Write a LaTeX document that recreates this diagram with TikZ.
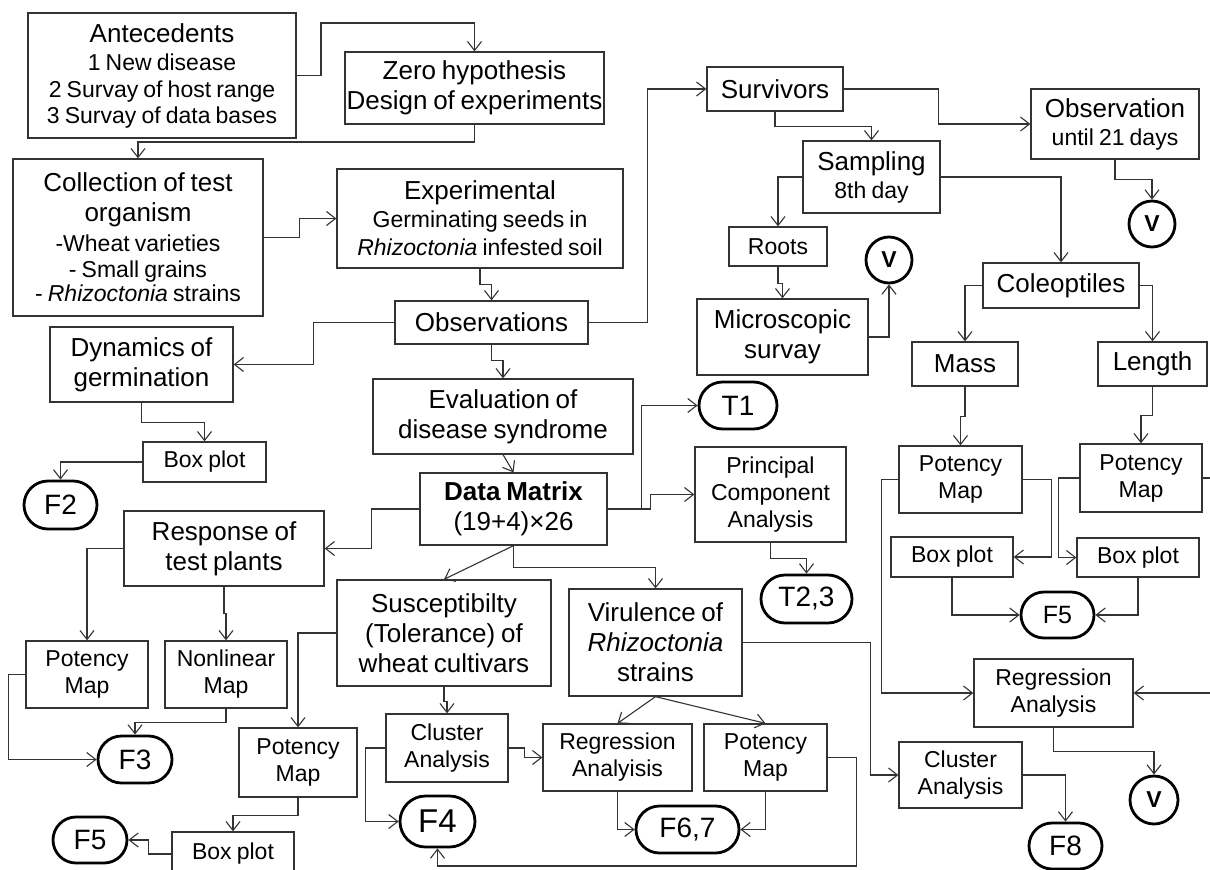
\documentclass[tikz,border=0pt]{standalone}
\usepackage{fontspec}
\setmainfont{Liberation Sans}[WordSpace=0.8]
\usetikzlibrary{arrows.meta,shapes.misc}

\newcommand{\lgtxt}{\fontsize{26}{30}\selectfont}
\newcommand{\smtxt}{\fontsize{23}{27}\selectfont}

\begin{document}
\begin{tikzpicture}[x=1pt,y=-1pt,
    box/.style={draw=black!80,line width=1.3pt,rectangle,align=center,inner sep=1pt,font=\lgtxt},
    sbox/.style={box,font=\smtxt},
    term/.style={draw,rounded rectangle,line width=2.8pt,inner sep=1pt,font=\fontsize{28}{32}\selectfont},
    vnode/.style={draw,circle,line width=2.8pt,minimum size=46pt,inner sep=0pt,font=\fontsize{23}{28}\selectfont\bfseries},
    wh/.style 2 args={minimum width=#1pt,minimum height=#2pt},
    arr/.style={-{Straight Barb[length=9pt,width=14pt]},draw=black!80,line width=1.1pt}]

  \useasboundingbox (0,0) rectangle (1210,870);

  \node[box,wh={268}{125}] (ante) at (162,75.5) {Antecedents\\[-2pt] \smtxt 1 New disease\\[-3pt] \smtxt 2 Survay of host range\\[-4pt] \smtxt 3 Survay of data bases};
  \node[box,wh={259}{72}] (zero) at (474.5,88) {Zero hypothesis\\ Design of experiments};
  \node[box,wh={250}{157}] (coll) at (138,237.5) {Collection of test\\ organism\\ \smtxt -Wheat varieties\\[-4pt] \smtxt - Small grains\\[-6pt] \smtxt - \textit{Rhizoctonia} strains};
  \node[box,wh={286}{99}] (expt) at (480,218.5) {Experimental\\[-2pt] \smtxt Germinating seeds in\\[-2pt] \smtxt \textit{Rhizoctonia} infested soil};
  \node[box,wh={193}{43}] (obs) at (491.5,322.5) {Observations};
  \node[box,wh={136}{44}] (surv) at (775,89) {Survivors};
  \node[box,wh={168}{70}] (obsv) at (1115,124) {Observation\\[-2pt] \smtxt until 21 days};
  \node[vnode] (vtop) at (1152,224) {V};
  \node[box,wh={137}{72}] (samp) at (871.5,177) {Sampling\\[-2pt] \smtxt 8th day};
  \node[sbox,wh={98}{39}] (roots) at (778,246.5) {Roots};
  \node[box,wh={171}{76}] (micro) at (782.5,337) {Microscopic\\ survay};
  \node[vnode] (vmid) at (889,260) {V};
  \node[box,wh={156}{45}] (cole) at (1061,285.5) {Coleoptiles};
  \node[box,wh={106}{44}] (mass) at (965,364) {Mass};
  \node[box,wh={109}{44}] (leng) at (1152.5,364) {Length};
  \node[sbox,wh={123}{67}] (potm) at (960.5,479.5) {Potency\\ Map};
  \node[sbox,wh={122}{68}] (potl) at (1141,478) {Potency\\ Map};
  \node[sbox,wh={122}{40}] (boxm) at (952,557) {Box plot};
  \node[sbox,wh={122}{39}] (boxl) at (1138,557.5) {Box plot};
  \node[term,wh={75}{46},font=\fontsize{25}{30}\selectfont] (ffive) at (1057.5,615) {F5};
  \node[sbox,wh={159}{68}] (regr) at (1053.5,693) {Regression\\ Analysis};
  \node[vnode,minimum size=48pt] (vbot) at (1154,800) {V};

  \node[box,wh={183}{75}] (dyn) at (141.5,364.5) {Dynamics of\\ germination};
  \node[sbox,wh={123}{40}] (boxg) at (204.5,462) {Box plot};
  \node[term,wh={75}{48}] (ftwo) at (60.5,505) {F2};
  \node[box,wh={260}{75}] (eval) at (503,416.5) {Evaluation of\\ disease syndrome};
  \node[box,wh={187}{72}] (dm) at (513.5,509) {\textbf{Data Matrix}\\ (19+4)×26};
  \node[term,wh={80}{47}] (tone) at (738,405.5) {T1};
  \node[sbox,wh={151}{95}] (pca) at (770.5,494.5) {Principal\\ Component\\ Analysis};
  \node[term,wh={93}{48}] (ttwo) at (806.5,599) {T2,3};
  \node[box,wh={200}{75}] (resp) at (224,548.5) {Response of\\ test plants};
  \node[sbox,wh={122}{67}] (pota) at (87,674.5) {Potency\\ Map};
  \node[sbox,wh={122}{67}] (nonl) at (226,674.5) {Nonlinear\\ Map};
  \node[term,wh={76}{47}] (fthree) at (135,759.5) {F3};
  \node[box,wh={214}{106}] (susc) at (444,633) {Susceptibilty\\ (Tolerance) of\\ wheat cultivars};
  \node[sbox,wh={118}{69}] (potb) at (298,762.5) {Potency\\ Map};
  \node[sbox,wh={122}{44}] (boxb) at (233,854) {Box plot};
  \node[term,wh={76}{46}] (ffivel) at (90,840) {F5};
  \node[sbox,wh={122}{68}] (clusm) at (447,748) {Cluster\\ Analysis};
  \node[term,wh={77}{51},font=\fontsize{33}{36}\selectfont] (ffour) at (437.5,821.5) {F4};
  \node[box,wh={173}{107}] (viru) at (655.5,642.5) {Virulence of\\ \textit{Rhizoctonia}\\ strains};
  \node[sbox,wh={149}{67}] (regm) at (617.5,757.5) {Regression\\ Analyisis};
  \node[sbox,wh={123}{67}] (potc) at (765.5,757.5) {Potency\\ Map};
  \node[term,wh={105}{47}] (fsix) at (687.5,829.5) {F6,7};
  \node[sbox,wh={123}{66}] (clusr) at (960.5,775) {Cluster\\ Analysis};
  \node[term,wh={75}{46}] (feight) at (1065.5,846) {F8};

  \draw[arr] (ante.east) -| (321,23) -| (zero.north);
  \draw[arr] (zero.south) |- (138,142) -- (coll.north);
  \draw[arr] (coll.east) -- ++(36,0) |- (expt.west);
  \draw[arr] (expt.south) -- ++(0,16) -| (obs.north);
  \draw[arr] (obs.east) -- ++(59,0) |- (surv.west);
  \draw[arr] (surv.east) -- ++(95,0) |- (obsv.west);
  \draw[arr] (obsv.south) -- ++(0,20) -| (vtop.north);
  \draw[arr] (surv.south) -- ++(0,15) -| (samp.north);
  \draw[arr] (samp.west) -| (roots.north);
  \draw[arr] (roots.south) -- ++(0,17) -| (micro.north);
  \draw[arr] (micro.east) -| (vmid.south);
  \draw[arr] (samp.east) -| (cole.north);
  \draw[arr] (cole.west) -| (mass.north);
  \draw[arr] (cole.east) -| (leng.north);
  \draw[arr] (mass.south) -- ++(0,30) -| (potm.north);
  \draw[arr] (leng.south) -- ++(0,29) -| (potl.north);
  \draw[arr] (potm.east) -- ++(29,0) |- (boxm.east);
  \draw[arr] (potl.west) -- ++(-21,0) |- (boxl.west);
  \draw[arr] (boxm.south) |- (ffive.west);
  \draw[arr] (boxl.south) |- (ffive.east);
  \draw[arr] (potm.west) -- ++(-17,0) |- (regr.west);
  \draw[arr] (potl.east) -- ++(23,0) |- (regr.east);
  \draw[arr] (regr.south) -- ++(0,24) -| (vbot.north);

  \draw[arr] (obs.west) -- ++(-81,0) |- (dyn.east);
  \draw[arr] (dyn.south) -- ++(0,20) -| (boxg.north);
  \draw[arr] (boxg.west) -| (ftwo.north);
  \draw[arr] (obs.south) -- ++(0,16) -| (eval.north);
  \draw[arr] (eval.south) -- (dm.north);
  \draw[arr] (dm.east) -- ++(34,0) |- (tone.west);
  \draw[arr] (dm.east) -- ++(43,0) |- (pca.west);
  \draw[arr] (pca.south) -- ++(0,16) -| (ttwo.north);
  \draw[arr] (dm.west) -- ++(-48,0) |- (resp.east);
  \draw[arr] (resp.west) -| (pota.north);
  \draw[arr] (resp.south) -- ++(0,27) -| (nonl.north);
  \draw[arr] (pota.west) -- ++(-17,0) |- (fthree.west);
  \draw[arr] (nonl.south) -- ++(0,14) -| (fthree.north);
  \draw[arr] (dm.south) -- (susc.north);
  \draw[arr] (dm.south) -- ++(0,22) -| (viru.north);
  \draw[arr] (susc.west) -| (potb.north);
  \draw[arr] (potb.south) -- ++(0,18) -| (boxb.north);
  \draw[arr] (boxb.west) -- ++(-23,0) |- (ffivel.east);
  \draw[arr] (susc.south) -- ++(0,15) -| (clusm.north);
  \draw[arr] (clusm.east) -- ++(16,0) |- (regm.west);
  \draw[arr] (clusm.west) -- ++(-20,0) |- (ffour.west);
  \draw[arr] (viru.south) -- (regm.north);
  \draw[arr] (viru.south) -- (potc.north);
  \draw[arr] (regm.south) |- (fsix.west);
  \draw[arr] (potc.south) |- (fsix.east);
  \draw[arr] (potc.east) -- ++(29,0) -- ++(0,108.5) -| (ffour.south);
  \draw[arr] (viru.east) -- ++(128,0) |- (clusr.west);
  \draw[arr] (clusr.east) -| (feight.north);
\end{tikzpicture}
\end{document}
